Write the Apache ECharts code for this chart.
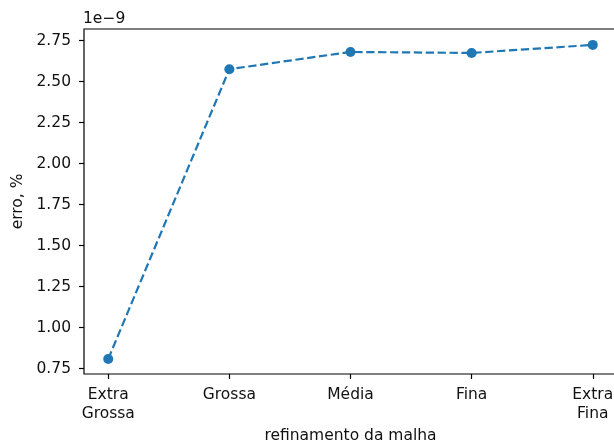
<!DOCTYPE html>
<html>
<head>
<meta charset="utf-8">
<script src="https://cdn.jsdelivr.net/npm/echarts@6/dist/echarts.min.js"></script>
<style>html,body{margin:0;padding:0;background:#fff}#c{width:614px;height:443px}</style>
</head>
<body>
<div id="c"></div>
<script>
// Data (values in units of 1e-9)
const categories = ['Extra\nGrossa', 'Grossa', 'Média', 'Fina', 'Extra\nFina'];
const erroValues = [0.808, 2.576, 2.681, 2.675, 2.724];
const yTicks = [0.75, 1.00, 1.25, 1.50, 1.75, 2.00, 2.25, 2.50, 2.75];
const xTicks = [0, 1, 2, 3, 4];

const FONT = 'DejaVu Sans';
const TXT = '#111';
const FS = 15.5;
const chart = echarts.init(document.getElementById('c'), null, {renderer: 'canvas'});
chart.setOption({
  animation: false,
  backgroundColor: '#fff',
  grid: {left: 84, top: 29, width: 533, height: 345, show: true, borderColor: '#000', borderWidth: 1.2,
    backgroundColor: 'transparent', containLabel: false, outerBoundsMode: 'none'},
  xAxis: {
    type: 'value', min: -0.2, max: 4.2,
    name: 'refinamento da malha', nameLocation: 'middle', nameGap: 53,
    nameTextStyle: {fontFamily: FONT, fontSize: FS, color: TXT},
    axisLine: {show: false, onZero: false},
    splitLine: {show: false},
    axisTick: {show: true, length: 5, lineStyle: {color: '#000', width: 1.2}, customValues: xTicks},
    axisLabel: {customValues: xTicks, margin: 12, fontFamily: FONT, fontSize: FS, color: TXT, lineHeight: 18.5,
      formatter: v => categories[Math.round(v)]}
  },
  yAxis: {
    type: 'value', min: 0.7165, max: 2.821,
    name: 'erro, %', nameLocation: 'middle', nameGap: 56, nameRotate: 90,
    nameTextStyle: {fontFamily: FONT, fontSize: FS, color: TXT},
    axisLine: {show: false, onZero: false},
    splitLine: {show: false},
    axisTick: {show: true, length: 5, lineStyle: {color: '#000', width: 1.2}, customValues: yTicks},
    axisLabel: {customValues: yTicks, margin: 13, fontFamily: FONT, fontSize: FS, color: TXT,
      formatter: v => v.toFixed(2)}
  },
  graphic: [{type: 'text', left: 83, top: 11, style: {text: '1e\u22129', fontFamily: FONT, fontSize: FS, fill: TXT}}],
  series: [{
    type: 'line',
    data: erroValues.map((v, i) => [xTicks[i], v]),
    symbol: 'circle', symbolSize: 10,
    itemStyle: {color: '#1f77b4'},
    lineStyle: {color: '#1f77b4', width: 2.2, type: [8.3, 3.6]},
    clip: false
  }]
});
</script>
</body>
</html>
